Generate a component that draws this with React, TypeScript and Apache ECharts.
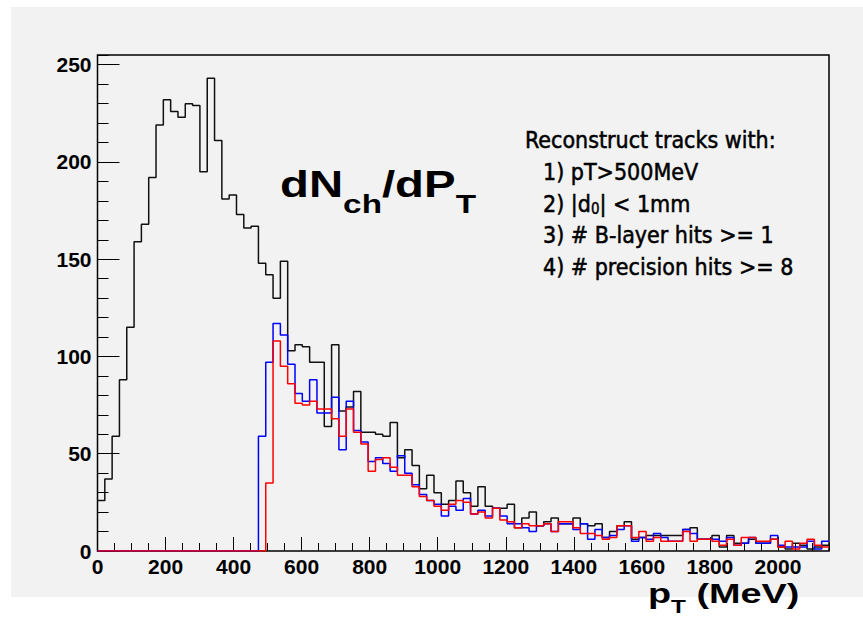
import React, { useEffect, useRef } from "react";
import * as echarts from "echarts";

const BIN_WIDTH = 21.5;
const X_MAX = 2150;
const Y_MAX = 255;
const X_MAJOR = 200;
const X_MINOR = 50;
const Y_MAJOR = 50;
const Y_MINOR = 10;

// all tracks (black)
const allTracks = [
  26, 37, 59, 88, 115, 159, 168, 192, 219, 232,
  226, 223, 230, 229, 195, 243, 211, 181, 183, 173,
  166, 167, 148, 142, 130, 149, 103, 106, 105, 97,
  97, 64, 106, 72, 74, 82, 61, 61, 60, 59,
  66, 48, 52, 44, 32, 39, 30, 24, 26, 36,
  30, 23, 33, 23, 22, 22, 24, 12, 17, 20,
  13, 15, 17, 14, 14, 17, 14, 13, 14, 7,
  10, 13, 15, 6, 7, 8, 8, 8, 8, 8,
  11, 12, 6, 6, 8, 2, 8, 4, 4, 6,
  4, 4, 6, 2, 1, 4, 3, 1, 2, 3,
];

// reconstructed, selection A (blue)
const blueTracks = [
  0, 0, 0, 0, 0, 0, 0, 0, 0, 0,
  0, 0, 0, 0, 0, 0, 0, 0, 0, 0,
  0, 0, 59, 97, 117, 111, 96, 81, 77, 88,
  71, 71, 79, 52, 77, 62, 56, 46, 48, 45,
  41, 49, 40, 34, 29, 26, 24, 18, 23, 21,
  27, 19, 21, 18, 22, 18, 14, 14, 12, 10,
  13, 14, 10, 14, 14, 11, 14, 6, 11, 7,
  8, 11, 13, 5, 7, 6, 9, 7, 5, 5,
  11, 9, 6, 6, 6, 5, 7, 3, 4, 7,
  4, 4, 8, 3, 2, 2, 2, 5, 1, 5,
];

// reconstructed, selection B (red)
const redTracks = [
  0, 0, 0, 0, 0, 0, 0, 0, 0, 0,
  0, 0, 0, 0, 0, 0, 0, 0, 0, 0,
  0, 0, 0, 35, 108, 95, 86, 76, 75, 77,
  73, 73, 68, 59, 73, 61, 55, 41, 47, 48,
  43, 39, 39, 33, 28, 26, 23, 21, 24, 26,
  25, 19, 20, 17, 22, 16, 15, 12, 14, 13,
  13, 14, 10, 15, 15, 12, 9, 9, 8, 6,
  7, 13, 13, 7, 10, 5, 7, 5, 5, 5,
  10, 5, 6, 6, 5, 3, 6, 3, 7, 7,
  5, 5, 6, 2, 5, 1, 4, 6, 3, 2,
];

const cutLines = [
  "{n|Reconstruct tracks with:}",
  "{n|1) pT>500MeV}",
  "{n|2) |d}{s|0}{n|| < 1mm}",
  "{n|3) # B-layer hits >= 1}",
  "{n|4) # precision hits >= 8}",
];

function toSteps(values: number[]) {
  const pts: [number, number][] = values.map((v, i) => [i * BIN_WIDTH, v]);
  pts.push([values.length * BIN_WIDTH, values[values.length - 1]]);
  return pts;
}

const GRID = { left: 97.5, right: 34, top: 55, bottom: 66 };
const W = 863;
const H = 617;

export default function App() {
  const ref = useRef<HTMLDivElement>(null);
  useEffect(() => {
    if (!ref.current) return;
    const chart = echarts.init(ref.current, undefined, { renderer: "svg" });
    const labelFont = {
      fontFamily: "Liberation Sans",
      fontWeight: "bold" as const,
      fontSize: 21,
      color: "#000",
    };
    const boxFont = "DejaVu Sans Condensed";
    const tick = (len: number) => ({
      show: true,
      inside: true,
      length: len,
      lineStyle: { color: "#000", width: 1 },
    });
    const noLine = { show: false, onZero: false };
    chart.setOption({
      animation: false,
      backgroundColor: "#ffffff",
      grid: [
        {
          ...GRID,
          show: true,
          borderColor: "#000",
          borderWidth: 1.5,
          backgroundColor: "transparent",
        },
        { ...GRID, show: false },
      ],
      xAxis: [
        {
          type: "value",
          gridIndex: 0,
          min: 0,
          max: X_MAX,
          interval: X_MAJOR,
          position: "bottom",
          axisLine: noLine,
          axisTick: tick(14),
          axisLabel: {
            ...labelFont,
            margin: 5,
            showMaxLabel: false,
            formatter: (v: number) => String(v),
          },
          splitLine: { show: false },
        },
        {
          type: "value",
          gridIndex: 1,
          min: 0,
          max: X_MAX,
          interval: X_MINOR,
          position: "bottom",
          axisLine: noLine,
          axisTick: tick(8),
          axisLabel: { show: false },
          splitLine: { show: false },
        },
      ],
      yAxis: [
        {
          type: "value",
          gridIndex: 0,
          min: 0,
          max: Y_MAX,
          interval: Y_MAJOR,
          position: "left",
          axisLine: noLine,
          axisTick: tick(22),
          axisLabel: { ...labelFont, margin: 6, showMaxLabel: false },
          splitLine: { show: false },
        },
        {
          type: "value",
          gridIndex: 1,
          min: 0,
          max: Y_MAX,
          interval: Y_MINOR,
          position: "left",
          axisLine: noLine,
          axisTick: tick(11),
          axisLabel: { show: false },
          splitLine: { show: false },
        },
      ],
      graphic: [
        {
          type: "rect",
          z: -100,
          silent: true,
          shape: { x: 11, y: 7, width: W - 11, height: 590 },
          style: { fill: "#f2f2f2" },
        },
        {
          type: "text",
          z: 100,
          x: 280,
          y: 165.5,
          scaleX: 1.28,
          style: {
            text: "{a|dN}{b|ch}{a|/dP}{b|T}",
            align: "left",
            verticalAlign: "top",
            rich: {
              a: { fontSize: 37, fontWeight: "bold", fontFamily: "Liberation Sans", lineHeight: 37, verticalAlign: "top", fill: "#000" },
              b: { fontSize: 26, fontWeight: "bold", fontFamily: "Liberation Sans", lineHeight: 51.7, verticalAlign: "bottom", fill: "#000" },
            },
          },
        },
        {
          type: "text",
          z: 100,
          x: 648,
          y: 579,
          scaleX: 1.35,
          style: {
            text: "{a|p}{b|T}{a| (MeV)}",
            align: "left",
            verticalAlign: "top",
            rich: {
              a: { fontSize: 28, fontWeight: "bold", fontFamily: "Liberation Sans", lineHeight: 28, verticalAlign: "top", fill: "#000" },
              b: { fontSize: 18, fontWeight: "bold", fontFamily: "Liberation Sans", lineHeight: 37.5, verticalAlign: "bottom", fill: "#000" },
            },
          },
        },
        ...cutLines.map((t, i) => ({
          type: "text",
          z: 100,
          x: i === 0 ? 525 : 543,
          y: 128.8 + i * 31.7,
          style: {
            text: t,
            align: "left",
            verticalAlign: "top",
            rich: {
              n: { fontSize: 23, fontFamily: boxFont, lineHeight: 23, verticalAlign: "top", fill: "#000", stroke: "#000", lineWidth: 0.5 },
              s: { fontSize: 15, fontFamily: boxFont, lineHeight: 24.75, verticalAlign: "bottom", fill: "#000", stroke: "#000", lineWidth: 0.4 },
            },
          },
        })),
      ],
      series: [
        {
          type: "line",
          step: "end",
          xAxisIndex: 0,
          yAxisIndex: 0,
          showSymbol: false,
          data: toSteps(allTracks),
          lineStyle: { color: "#111", width: 1.5 },
          itemStyle: { color: "#111" },
          z: 3,
        },
        {
          type: "line",
          step: "end",
          xAxisIndex: 0,
          yAxisIndex: 0,
          showSymbol: false,
          data: toSteps(blueTracks),
          lineStyle: { color: "#0000ff", width: 1.5 },
          itemStyle: { color: "#0000ff" },
          z: 4,
        },
        {
          type: "line",
          step: "end",
          xAxisIndex: 0,
          yAxisIndex: 0,
          showSymbol: false,
          data: toSteps(redTracks),
          lineStyle: { color: "#ff0000", width: 1.5 },
          itemStyle: { color: "#ff0000" },
          z: 5,
        },
      ],
    });
    return () => chart.dispose();
  }, []);
  return (
    <div
      ref={ref}
      style={{ position: "absolute", left: 0, top: 0, width: W, height: H }}
    />
  );
}
